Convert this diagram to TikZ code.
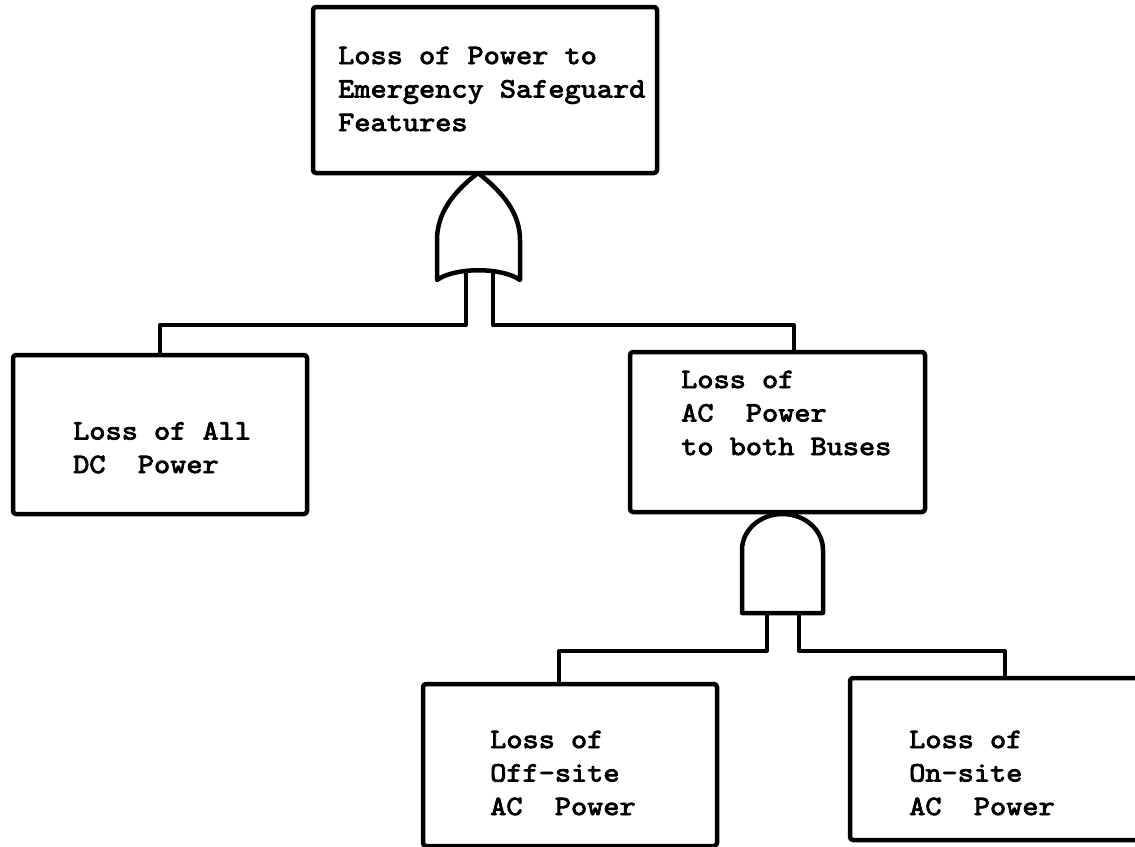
\documentclass[tikz,border=0pt]{standalone}
\usepackage{fontspec}
\newfontfamily\tw{lmmono10-regular}[Extension=.otf,FakeStretch=1.1,FakeBold=3]
\usetikzlibrary{calc}
\begin{document}
\begin{tikzpicture}[x=1pt,y=-1pt,line join=round,line cap=round,
  box/.style={draw,rectangle,rounded corners=3pt,inner sep=0pt,line width=4.5pt},
  txt/.style={anchor=base west,inner sep=0pt,align=left,font=\tw\fontsize{28}{33.5}\selectfont},
  wire/.style={draw,line width=4pt},
  gate/.style={draw,line width=4.5pt}]
\useasboundingbox (0,0) rectangle (1135,846);
% boxes
\node[box,minimum width=344pt,minimum height=166pt] (top) at (485,90) {};
\node[box,minimum width=294pt,minimum height=159pt] (dc) at (160,434.5) {};
\node[box,minimum width=295pt,minimum height=160pt] (ac) at (777.5,432) {};
\node[box,minimum width=294pt,minimum height=162pt] (off) at (570,765) {};
\node[box,minimum width=294pt,minimum height=162pt] (on) at (997,759) {};
% texts (anchor = baseline of last line)
\node[txt] (ttop) at (338,131) {Loss of Power to\\Emergency Safeguard\\Features};
\node[txt] (tdc) at (73,473) {Loss of All\\DC\ \ Power};
\node[txt] (tac) at (681,455) {Loss of\\AC\ \ Power\\to both Buses};
\node[txt] (toff) at (490,815) {Loss of\\Off-site\\AC\ \ Power};
\node[txt] (ton) at (909,815) {Loss of\\On-site\\AC\ \ Power};
% OR gate
\coordinate (orA) at (478,173);
\draw[gate] (orA) .. controls (452,193) and (437,214) .. (437,240) -- (437,280)
  .. controls (455,267) and (502,267) .. (520,280) -- (520,240)
  .. controls (520,214) and (504,193) .. (orA) -- cycle;
\coordinate (orL) at (466,272);
\coordinate (orR) at (493,272);
\draw[wire] (orL) -- ++(0,53) -| (dc.north);
\draw[wire] (orR) -- ++(0,53) -| ([xshift=16.5pt]ac.north);
% AND gate
\draw[gate] (742,613) -- (742,550) .. controls (742,530) and (760.1,514) .. (782.5,514)
  .. controls (804.9,514) and (823,530) .. (823,550) -- (823,613) -- cycle;
\coordinate (anL) at (767,613);
\coordinate (anR) at (799,613);
\draw[wire] (anL) -- ++(0,38) -| ([xshift=-11pt]off.north);
\draw[wire] (anR) -- ++(0,38) -| ([xshift=8pt]on.north);
\end{tikzpicture}
\end{document}
